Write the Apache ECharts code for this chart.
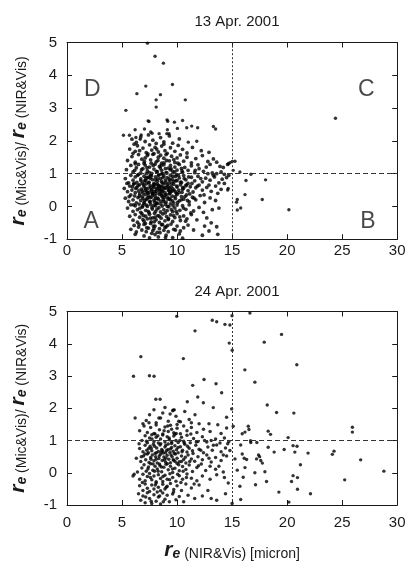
<!DOCTYPE html>
<html>
<head>
<meta charset="utf-8">
<script src="https://cdn.jsdelivr.net/npm/echarts@6/dist/echarts.min.js"></script>
<style>html,body{margin:0;padding:0;background:#fff}#c{width:409px;height:562px}</style>
</head>
<body>
<div id="c"></div>
<script>
// ---------- DATA ----------
const titles = ['13 Apr. 2001', '24 Apr. 2001'];
const xTicks = [0, 5, 10, 15, 20, 25, 30];
const yTicks = [-1, 0, 1, 2, 3, 4, 5];
const thresholdX = 15;
const thresholdY = 1;
const quadrantLetters = [['D', 2.3, 3.57], ['C', 27.2, 3.57], ['A', 2.2, -0.47], ['B', 27.35, -0.46]];

// 13 Apr. 2001 - sparse upper points and points right of the cloud
const apr13Outliers = [
[7.31,4.98],[8.0,4.58],[8.76,4.37],[7.16,3.67],[9.58,3.72],[6.35,3.44],[8.49,3.41],[8.1,3.25],[10.75,3.25],[8.1,3.03],
[5.35,2.93],[24.39,2.69],[7.37,2.61],[7.45,2.59],[9.09,2.64],[9.15,2.6],[9.76,2.57],[10.5,2.62],[11.33,2.45],[11.87,2.4],
[10.03,2.38],[10.88,2.4],[13.3,2.44],[13.5,2.36],[6.19,2.34],[7.04,2.36],[7.73,2.23],[7.6,2.27],[9.12,2.34],[5.13,2.17],
[5.67,2.17],[6.74,2.18],[8.37,2.22],[9.07,2.22],[9.27,2.22],[6.26,2.1],[6.65,2.05],[11.79,1.99],[11.02,1.96],
[16.71,0.98],[16.26,0.79],[18.04,0.81],[16.17,0.36],[15.47,0.21],[15.4,0.13],[17.74,0.21],[15.78,-0.05],[15.47,-0.11],
[20.16,-0.1],[15.71,1.05],[15.26,1.38],[15.01,1.37],[15.1,1.1],[14.65,1.3],[14.8,1.33],[14.65,0.55],[14.6,0.5]
];
// 13 Apr. 2001 - main cloud
const apr13Cloud = [
[5.9,2.05],[6.3,1.95],[6.7,2.12],[7.1,1.98],[7.4,2.18],[7.8,2.02],[8.1,1.92],[8.5,2.1],[8.8,1.97],[9.3,2.15],[9.6,1.93],[10.2,2.06],[6.1,1.9],
[5.7,1.75],[6.0,1.62],[6.4,1.85],[6.6,1.7],[6.9,1.78],[7.2,1.64],[7.5,1.88],[7.7,1.72],[8.0,1.8],[8.3,1.66],[8.6,1.84],[8.9,1.7],[9.1,1.62],
[9.4,1.79],[9.8,1.68],[10.1,1.86],[10.5,1.74],[10.9,1.63],[11.4,1.8],[12.2,1.7],[6.2,1.68],[7.9,1.61],[8.8,1.9],[12.9,1.65],
[5.5,1.4],[5.9,1.52],[6.2,1.35],[6.5,1.58],[6.8,1.44],[7.0,1.31],[7.3,1.55],[7.6,1.42],[7.8,1.59],[8.1,1.36],[8.3,1.5],[8.6,1.32],[8.8,1.47],
[9.0,1.58],[9.3,1.39],[9.5,1.53],[9.8,1.34],[10.0,1.48],[10.3,1.57],[10.6,1.38],[10.9,1.5],[11.3,1.33],[11.7,1.46],[12.3,1.55],[12.8,1.37],
[13.3,1.45],[13.6,1.35],[14.2,1.19],[14.6,1.28],[7.1,1.48],[8.5,1.56],[9.7,1.43],[13.0,1.28],[13.9,1.22],
[5.4,1.12],[5.8,1.25],[6.0,1.05],[6.3,1.18],[6.5,1.28],[6.7,1.02],[6.9,1.15],[7.1,1.26],[7.3,1.08],[7.5,1.2],[7.7,1.01],[7.9,1.14],[8.0,1.29],
[8.2,1.06],[8.4,1.22],[8.6,1.1],[8.8,1.27],[9.0,1.03],[9.2,1.17],[9.4,1.25],[9.6,1.07],[9.8,1.2],[10.0,1.11],[10.2,1.28],[10.5,1.04],[10.7,1.19],
[11.0,1.1],[11.3,1.24],[11.6,1.03],[12.0,1.15],[12.4,1.07],[12.8,1.0],[13.2,1.02],[13.6,1.0],[14.0,1.05],[14.3,0.98],[14.7,0.95],[7.2,1.0],
[8.7,1.0],[10.4,1.16],[6.2,1.3],[11.9,1.27],
[5.3,0.85],[5.6,0.72],[5.8,0.95],[6.0,0.8],[6.2,0.9],[6.35,0.73],[6.5,0.98],[6.7,0.84],[6.85,0.71],[7.0,0.92],[7.15,0.79],[7.3,0.88],[7.45,0.74],
[7.6,0.96],[7.75,0.82],[7.9,0.7],[8.05,0.9],[8.2,0.77],[8.35,0.97],[8.5,0.85],[8.65,0.72],[8.8,0.93],[8.95,0.8],[9.1,0.88],[9.25,0.71],[9.4,0.95],
[9.55,0.83],[9.7,0.76],[9.85,0.91],[10.0,0.79],[10.2,0.87],[10.4,0.73],[10.6,0.94],[10.8,0.81],[11.0,0.7],[11.3,0.89],[11.6,0.78],[11.9,0.92],
[12.3,0.75],[12.6,0.86],[13.0,0.8],[13.4,0.9],[13.8,0.72],[14.1,0.83],[14.5,0.88],[6.1,0.7],[7.55,0.86],[8.6,0.99],[9.95,0.97],[7.05,0.78],[8.25,0.84],[9.35,0.79],
[5.2,0.55],[5.5,0.45],[5.7,0.62],[5.9,0.5],[6.05,0.68],[6.2,0.42],[6.35,0.58],[6.5,0.47],[6.6,0.66],[6.75,0.53],[6.9,0.41],[7.0,0.6],[7.1,0.49],
[7.2,0.69],[7.35,0.55],[7.45,0.43],[7.55,0.63],[7.7,0.51],[7.8,0.4],[7.9,0.58],[8.0,0.67],[8.1,0.46],[8.2,0.56],[8.3,0.64],[8.4,0.44],[8.5,0.52],
[8.6,0.61],[8.7,0.48],[8.8,0.69],[8.9,0.42],[9.0,0.57],[9.1,0.65],[9.2,0.5],[9.35,0.41],[9.45,0.6],[9.6,0.54],[9.7,0.67],[9.85,0.45],[10.0,0.59],
[10.15,0.5],[10.3,0.66],[10.45,0.43],[10.6,0.56],[10.8,0.63],[11.0,0.48],[11.2,0.6],[11.45,0.44],[11.7,0.57],[12.0,0.65],[12.3,0.5],[12.7,0.58],
[13.1,0.46],[13.5,0.62],[14.0,0.52],[7.65,0.48],[8.45,0.62],[9.3,0.55],[6.45,0.64],[7.25,0.45],[8.15,0.53],[8.75,0.58],[9.55,0.47],[10.5,0.52],[7.85,0.66],
[5.3,0.25],[5.6,0.15],[5.8,0.35],[6.0,0.2],[6.15,0.32],[6.3,0.11],[6.45,0.27],[6.6,0.38],[6.7,0.18],[6.85,0.3],[7.0,0.12],[7.1,0.36],[7.25,0.22],
[7.4,0.33],[7.5,0.14],[7.65,0.28],[7.75,0.39],[7.9,0.19],[8.0,0.31],[8.15,0.1],[8.25,0.25],[8.4,0.37],[8.5,0.16],[8.65,0.29],[8.75,0.21],[8.9,0.34],
[9.0,0.13],[9.15,0.27],[9.3,0.38],[9.4,0.2],[9.55,0.31],[9.7,0.11],[9.85,0.24],[10.0,0.36],[10.2,0.17],[10.4,0.3],[10.6,0.22],[10.85,0.35],
[11.1,0.14],[11.4,0.28],[11.7,0.2],[12.1,0.33],[12.5,0.12],[13.0,0.26],[13.5,0.18],[8.55,0.38],[7.3,0.26],[8.05,0.24],[9.2,0.22],[6.9,0.24],
[5.5,-0.05],[5.8,0.05],[6.0,-0.15],[6.2,0.02],[6.4,-0.1],[6.55,0.07],[6.7,-0.18],[6.85,-0.02],[7.0,0.08],[7.15,-0.12],[7.3,0.0],[7.45,-0.19],
[7.6,0.06],[7.75,-0.08],[7.9,0.03],[8.05,-0.15],[8.2,0.09],[8.35,-0.04],[8.5,-0.17],[8.65,0.01],[8.8,-0.1],[8.95,0.06],[9.1,-0.13],[9.25,-0.01],
[9.4,0.08],[9.6,-0.16],[9.8,-0.05],[10.0,0.04],[10.25,-0.12],[10.5,0.02],[10.8,-0.09],[11.1,0.05],[11.5,-0.14],[12.0,-0.03],[12.4,-0.18],
[13.2,-0.1],[13.8,-0.05],
[5.7,-0.3],[6.0,-0.42],[6.2,-0.25],[6.4,-0.48],[6.6,-0.33],[6.8,-0.22],[7.0,-0.45],[7.15,-0.3],[7.3,-0.38],[7.5,-0.24],[7.65,-0.47],[7.8,-0.35],
[7.95,-0.21],[8.1,-0.41],[8.25,-0.28],[8.4,-0.49],[8.55,-0.36],[8.7,-0.23],[8.9,-0.44],[9.05,-0.31],[9.2,-0.4],[9.4,-0.26],[9.6,-0.46],[9.8,-0.34],
[10.0,-0.22],[10.3,-0.43],[10.6,-0.29],[10.9,-0.38],[11.3,-0.25],[11.8,-0.41],[12.7,-0.35],[13.1,-0.5],[8.0,-0.33],[6.9,-0.4],
[5.8,-0.7],[6.1,-0.58],[6.3,-0.78],[6.5,-0.63],[6.8,-0.72],[7.0,-0.55],[7.2,-0.77],[7.4,-0.66],[7.6,-0.52],[7.8,-0.74],[8.0,-0.6],[8.2,-0.79],
[8.4,-0.68],[8.6,-0.56],[8.8,-0.73],[9.0,-0.62],[9.2,-0.77],[9.45,-0.54],[9.7,-0.7],[10.0,-0.6],[10.3,-0.75],[10.6,-0.65],[11.0,-0.57],
[11.5,-0.72],[12.5,-0.6],[13.6,-0.62],[12.9,-0.75],[7.9,-0.68],[8.9,-0.64],
[6.2,-0.85],[7.0,-0.9],[7.5,-0.96],[8.0,-0.86],[8.3,-0.93],[9.0,-0.88],[9.6,-0.95],[10.2,-0.84],[10.5,-0.97],[12.3,-0.88],[13.7,-0.85],[7.7,-0.82]
];
// 13 Apr. 2001 - extra points in the dense core of the cloud
const apr13Core = [
[6.42,0.95],[6.58,0.31],[6.63,-0.05],[6.77,1.12],[6.81,0.47],[6.93,-0.28],[6.97,0.66],[7.03,1.37],[7.08,0.18],[7.12,-0.52],[7.18,0.86],
[7.22,0.04],[7.27,1.18],[7.33,0.41],[7.38,-0.15],[7.42,0.72],[7.48,1.03],[7.52,0.27],[7.58,-0.36],[7.62,0.58],[7.68,0.93],[7.72,-0.03],
[7.78,0.35],[7.83,1.25],[7.87,0.62],[7.93,-0.47],[7.97,0.13],[8.02,0.81],[8.08,0.39],[8.12,1.07],[8.18,-0.08],[8.22,0.68],[8.28,0.22],
[8.32,0.95],[8.38,-0.3],[8.42,0.51],[8.48,1.17],[8.52,0.07],[8.58,0.76],[8.62,0.33],[8.68,-0.55],[8.72,0.88],[8.78,0.15],[8.82,1.33],
[8.88,0.55],[8.92,-0.2],[8.98,0.73],[9.02,0.36],[9.08,1.02],[9.12,0.0],[9.18,0.6],[9.22,-0.37],[9.28,0.84],[9.32,0.24],[9.38,1.12],
[9.42,0.45],[9.48,-0.1],[9.52,0.7],[9.58,0.17],[9.62,0.92],[9.68,-0.28],[9.72,0.5],[9.78,1.05],[9.82,0.3],[9.88,0.78],[9.92,-0.15],
[9.98,0.62],[10.05,0.12],[10.12,0.95],[10.18,0.42],[10.25,-0.32],[10.32,0.74],[10.38,0.2],[10.45,1.08],[10.52,0.58],[10.58,-0.05],
[10.65,0.85],[10.72,0.3],[10.78,-0.45],[10.85,0.66],[10.95,0.18],[11.05,0.9],[11.15,0.38],[11.25,-0.2],[11.35,0.7],[11.55,0.25],
[11.65,1.1],[11.85,0.62],[12.15,0.85],[12.45,0.35],[12.65,1.2],[12.9,0.65],[13.3,0.95],[13.7,0.4],[14.3,0.7],[6.25,0.55],[6.15,1.1],
[6.05,0.05],[5.95,0.6],[5.65,0.3],[5.45,0.7],[6.55,-0.55],[7.85,-0.6],[8.45,-0.8],[9.15,-0.58],[9.85,-0.72],[7.25,-0.65],[8.95,-0.95],
[7.35,1.6],[8.15,1.75],[9.05,1.4],[8.55,1.25],[7.65,1.32],[9.45,1.15],[6.88,0.02],[7.92,0.46],[8.36,0.61],[8.84,0.27],[9.26,0.48],
[7.46,0.9],[8.04,0.02],[8.66,0.45],[7.56,0.15],[8.26,1.4],[9.64,0.02],[10.08,1.32],[6.72,0.78],[7.14,0.55],[8.94,1.15],[9.94,0.4]
];

// 24 Apr. 2001 - sparse points outside the main cloud
const apr24Outliers = [
[9.97,4.85],[14.99,4.87],[16.62,4.95],[13.2,4.73],[13.6,4.68],[14.35,4.6],[14.8,4.58],[11.63,4.4],[14.74,4.02],[15.01,3.8],
[17.92,4.05],[19.49,4.29],[6.71,3.6],[10.57,3.54],[20.88,3.35],[6.04,2.99],[7.49,3.01],[7.91,2.99],[16.16,3.19],[17.07,2.81],
[12.45,2.89],[13.54,2.76],[11.42,2.71],[14.05,2.48],[11.88,2.35],[12.39,2.17],[10.93,2.2],[8.07,2.28],[8.46,2.28],[13.29,2.02],
[9.66,1.95],[9.75,1.95],[18.19,2.1],[19.04,1.87],[20.61,1.85],[14.96,1.98],[14.5,1.72],[6.19,1.7],[11.63,1.8],
[16.47,1.44],[15.1,1.44],[15.92,1.21],[16.17,1.26],[16.53,1.34],[18.28,1.29],[18.49,1.19],[20.09,1.09],[25.93,1.41],[25.93,1.26],
[16.68,0.99],[16.7,0.94],[17.25,0.94],[15.78,0.86],[18.28,0.79],[19.73,0.72],[20.54,0.84],[20.9,0.82],[20.7,0.64],[21.9,0.61],
[24.26,0.67],[24.11,0.57],[26.68,0.4],[15.92,0.58],[16.1,0.45],[16.32,0.41],[17.22,0.43],[17.5,0.5],[17.6,0.38],[17.75,0.3],[17.4,0.55],
[18.82,0.64],[21.21,0.25],[15.26,0.43],[15.47,0.08],[16.17,0.16],[17.07,0.0],[17.98,0.03],[28.79,0.05],[16.01,-0.14],[20.54,-0.09],
[20.94,-0.15],[18.13,-0.27],[17.13,-0.37],[15.71,-0.42],[25.23,-0.22],[20.4,-0.27],[20.94,-0.51],[19.25,-0.6],[22.12,-0.65],
[15.78,-0.83],[20.16,-0.91],[14.65,-0.32]
];
// 24 Apr. 2001 - main cloud
const apr24Cloud = [
[7.5,1.8],[8.1,1.55],[8.5,1.7],[8.9,2.02],[9.2,1.6],[9.6,1.92],[9.9,1.75],[10.3,1.58],[10.7,1.9],[11.1,1.65],[12.0,1.52],[12.9,1.52],
[13.7,1.49],[7.9,1.95],[8.7,1.85],[10.0,1.5],[7.2,1.62],[11.3,1.55],[6.9,1.52],[9.37,1.82],
[6.6,1.3],[7.0,1.45],[7.3,1.25],[7.6,1.4],[7.9,1.22],[8.1,1.48],[8.4,1.33],[8.7,1.2],[8.9,1.42],[9.2,1.28],[9.4,1.47],[9.7,1.24],[10.0,1.38],
[10.3,1.21],[10.6,1.45],[10.9,1.3],[11.3,1.4],[11.8,1.25],[12.4,1.35],[13.0,1.28],[14.5,1.39],[14.0,1.22],[9.5,1.35],
[6.8,1.0],[7.1,1.15],[7.3,0.93],[7.5,1.08],[7.7,1.18],[7.9,0.97],[8.1,1.1],[8.3,0.92],[8.5,1.05],[8.7,1.17],[8.9,0.95],[9.1,1.12],[9.3,1.02],
[9.5,0.91],[9.7,1.14],[9.9,1.0],[10.1,0.94],[10.4,1.1],[10.6,0.98],[10.9,1.16],[11.2,0.93],[11.5,1.06],[11.9,0.97],[12.3,1.12],[12.7,0.95],
[13.1,1.0],[13.5,1.05],[13.9,0.92],[14.3,1.08],[14.7,0.97],[8.0,1.2],[9.8,1.19],
[6.6,0.75],[6.9,0.65],[7.1,0.85],[7.25,0.7],[7.4,0.62],[7.55,0.82],[7.7,0.68],[7.85,0.88],[8.0,0.6],[8.15,0.77],[8.3,0.66],[8.45,0.86],[8.6,0.72],
[8.75,0.61],[8.9,0.8],[9.05,0.69],[9.2,0.89],[9.35,0.63],[9.5,0.78],[9.65,0.67],[9.8,0.84],[9.95,0.71],[10.1,0.62],[10.3,0.81],[10.5,0.7],
[10.7,0.88],[10.9,0.64],[11.1,0.76],[11.4,0.68],[11.7,0.85],[12.0,0.73],[12.4,0.62],[12.8,0.8],[13.2,0.7],[13.6,0.86],[14.0,0.65],[14.4,0.77],
[14.8,0.69],[7.65,0.76],[8.55,0.64],[9.4,0.74],
[6.3,0.45],[6.7,0.35],[6.95,0.52],[7.15,0.4],[7.3,0.58],[7.45,0.32],[7.6,0.47],[7.75,0.55],[7.9,0.37],[8.05,0.5],[8.2,0.3],[8.35,0.44],[8.5,0.57],
[8.65,0.38],[8.8,0.49],[8.95,0.33],[9.1,0.54],[9.25,0.42],[9.4,0.31],[9.55,0.5],[9.7,0.39],[9.85,0.58],[10.0,0.45],[10.2,0.34],[10.4,0.52],
[10.6,0.41],[10.8,0.3],[11.0,0.55],[11.3,0.43],[11.6,0.36],[11.9,0.5],[12.3,0.4],[12.7,0.55],[13.1,0.33],[13.5,0.47],[14.0,0.38],[14.5,0.52],
[8.1,0.42],[9.0,0.46],
[6.8,0.15],[7.0,0.25],[7.2,0.05],[7.4,0.18],[7.6,0.28],[7.8,0.08],[8.0,0.2],[8.2,0.12],[8.4,0.27],[8.6,0.03],[8.8,0.17],[9.0,0.26],[9.2,0.09],
[9.4,0.2],[9.6,0.01],[9.8,0.14],[10.0,0.29],[10.2,0.06],[10.5,0.19],[10.8,0.1],[11.1,0.24],[11.4,0.04],[11.8,0.16],[12.2,0.27],[12.6,0.07],
[13.0,0.2],[13.5,0.11],[14.2,0.02],[6.4,0.02],[6.1,-0.05],
[6.0,-0.1],[6.6,-0.2],[6.9,-0.05],[7.1,-0.25],[7.3,-0.12],[7.5,-0.02],[7.7,-0.22],[7.9,-0.1],[8.1,-0.28],[8.3,-0.06],[8.5,-0.18],[8.7,-0.27],
[8.9,-0.08],[9.1,-0.2],[9.35,-0.03],[9.6,-0.15],[9.9,-0.26],[10.2,-0.09],[10.5,-0.2],[10.9,-0.04],[11.3,-0.17],[11.8,-0.25],[12.3,-0.1],
[13.0,-0.2],[13.6,-0.06],[14.3,-0.15],
[6.6,-0.4],[6.9,-0.55],[7.1,-0.35],[7.3,-0.48],[7.5,-0.58],[7.7,-0.38],[7.9,-0.5],[8.1,-0.32],[8.3,-0.45],[8.5,-0.56],[8.7,-0.36],[8.9,-0.5],
[9.1,-0.42],[9.4,-0.33],[9.7,-0.52],[10.0,-0.4],[10.4,-0.55],[10.8,-0.35],[11.3,-0.47],[12.0,-0.38],[12.8,-0.55],
[6.5,-0.65],[6.7,-0.85],[6.9,-0.72],[7.1,-0.93],[7.3,-0.62],[7.5,-0.8],[7.7,-0.95],[7.9,-0.68],[8.1,-0.88],[8.3,-0.75],[8.5,-0.97],[8.7,-0.63],
[8.9,-0.82],[9.1,-0.7],[9.3,-0.9],[9.6,-0.66],[9.9,-0.84],[10.2,-0.74],[10.6,-0.9],[11.0,-0.7],[11.6,-0.8],[12.3,-0.72],[13.1,-0.8],[13.6,-0.85],
[14.4,-0.65],[15.0,-0.95]
];
// 24 Apr. 2001 - extra points in the dense core of the cloud
const apr24Core = [
[7.08,0.58],[7.22,0.98],[7.35,0.12],[7.42,0.75],[7.58,-0.15],[7.63,0.42],[7.72,1.05],[7.82,0.27],[7.95,0.82],[8.02,-0.38],[8.12,0.62],
[8.25,1.15],[8.28,0.05],[8.38,0.52],[8.42,-0.72],[8.52,0.9],[8.58,0.18],[8.68,0.68],[8.72,-0.12],[8.82,1.3],[8.85,0.4],[8.98,0.85],
[9.02,-0.45],[9.12,0.28],[9.18,0.72],[9.28,1.08],[9.32,-0.22],[9.45,0.55],[9.52,0.95],[9.58,0.12],[9.68,-0.6],[9.75,0.6],[9.82,0.35],
[9.92,1.22],[10.05,-0.05],[10.08,0.78],[10.15,0.25],[10.25,1.0],[10.35,-0.3],[10.45,0.65],[10.55,0.05],[10.65,0.92],[10.75,0.48],
[10.85,-0.15],[10.95,0.82],[11.15,0.35],[11.25,1.2],[11.45,0.6],[11.55,-0.35],[11.75,0.95],[11.95,0.22],[12.15,0.7],[12.5,1.0],
[12.9,0.45],[13.3,0.85],[13.8,0.2],[14.2,0.55],[14.6,0.9],[6.75,0.5],[6.85,-0.3],[6.55,0.9],[7.15,-0.75],[7.65,-0.88],[8.2,-0.6],
[8.75,-0.9],[7.45,1.55],[8.35,1.7],[9.15,1.45],[10.15,1.6],[7.95,0.05],[8.95,0.62],[9.65,0.4],[10.4,0.35],[8.45,0.22]
];

// ---------- CHART ----------
const FONT = '"Liberation Sans", Arial, Helvetica, sans-serif';
const INK = '#1a1a1a';
const chart = echarts.init(document.getElementById('c'), null, {renderer: 'canvas'});

const gridDefs = [
  {left: 66.7, top: 42.5, width: 330.5, height: 196.7},
  {left: 66.7, top: 311.5, width: 330.5, height: 198}
];
const xMargins = [4, 10];

const xAxes = [], yAxes = [];
const nameRich = {
  r: {fontFamily: FONT, fontSize: 21, fontWeight: 'bold', fontStyle: 'italic', color: INK, lineHeight: 22, verticalAlign: 'bottom'},
  e: {fontFamily: FONT, fontSize: 14, fontWeight: 'bold', fontStyle: 'italic', color: INK, lineHeight: 10, verticalAlign: 'bottom'},
  t: {fontFamily: FONT, fontSize: 14, color: INK, lineHeight: 16, verticalAlign: 'bottom'}
};
gridDefs.forEach((g, i) => {
  const common = {
    gridIndex: i, type: 'value', min: xTicks[0], max: xTicks[xTicks.length - 1], interval: 5,
    axisLine: {show: true, onZero: false, lineStyle: {color: INK, width: 1}},
    axisTick: {show: true, inside: true, length: 5, lineStyle: {color: INK}},
    splitLine: {show: false}
  };
  xAxes.push(Object.assign({}, common, {
    position: 'bottom',
    axisLabel: {show: true, fontFamily: FONT, fontSize: 15, color: INK, margin: xMargins[i]},
    name: i === 1 ? '{r|r}{e|e}{t| (NIR&Vis) [micron]}' : '',
    nameLocation: 'middle', nameGap: 34,
    nameTextStyle: {rich: nameRich}
  }));
  xAxes.push(Object.assign({}, common, {position: 'top', axisLabel: {show: false}}));
  const ycommon = {
    gridIndex: i, type: 'value', min: yTicks[0], max: yTicks[yTicks.length - 1], interval: 1,
    axisLine: {show: true, onZero: false, lineStyle: {color: INK, width: 1}},
    axisTick: {show: true, inside: true, length: 5, lineStyle: {color: INK}},
    splitLine: {show: false}
  };
  yAxes.push(Object.assign({}, ycommon, {
    position: 'left',
    axisLabel: {show: true, fontFamily: FONT, fontSize: 15, color: INK, margin: 10},
    name: '{r|r}{e|e}{t| (Mic&Vis)/ }{r|r}{e|e}{t| (NIR&Vis)}',
    nameLocation: 'middle', nameRotate: 90, nameGap: 38,
    nameTextStyle: {rich: nameRich}
  }));
  yAxes.push(Object.assign({}, ycommon, {position: 'right', axisLabel: {show: false}}));
});

const refLines = {
  silent: true, symbol: 'none', label: {show: false},
  lineStyle: {color: '#333', width: 1},
  data: [
    {yAxis: thresholdY, lineStyle: {type: [5, 3]}},
    {xAxis: thresholdX, lineStyle: {type: [2, 2]}}
  ]
};

function scatter(idx, data, withLines, size) {
  const s = {
    type: 'scatter', xAxisIndex: idx * 2, yAxisIndex: idx * 2, data: data,
    symbol: 'circle', symbolSize: size, itemStyle: {color: '#000'}, silent: true, animation: false
  };
  if (withLines) s.markLine = refLines;
  return s;
}

const option = {
  backgroundColor: '#fff',
  animation: false,
  title: titles.map((t, i) => ({
    text: t, left: 232, top: i === 0 ? 9 : 279, textAlign: 'center',
    textStyle: {fontFamily: FONT, fontSize: 15, fontWeight: 'normal', color: INK}
  })),
  grid: gridDefs,
  xAxis: xAxes,
  yAxis: yAxes,
  series: [
    scatter(0, apr13Cloud, true, 3.8),
    scatter(0, apr13Core, false, 3.8),
    scatter(0, apr13Outliers, false, 3.4),
    scatter(1, apr24Cloud, true, 3.5),
    scatter(1, apr24Core, false, 3.5),
    scatter(1, apr24Outliers, false, 3.4),
    {
      type: 'scatter', xAxisIndex: 0, yAxisIndex: 0, symbolSize: 0, silent: true,
      data: quadrantLetters.map(q => ({value: [q[1], q[2]], name: q[0]})),
      label: {show: true, position: 'inside', formatter: p => p.name,
        fontFamily: FONT, fontSize: 23, color: INK}
    }
  ]
};
chart.setOption(option);
</script>
</body>
</html>
